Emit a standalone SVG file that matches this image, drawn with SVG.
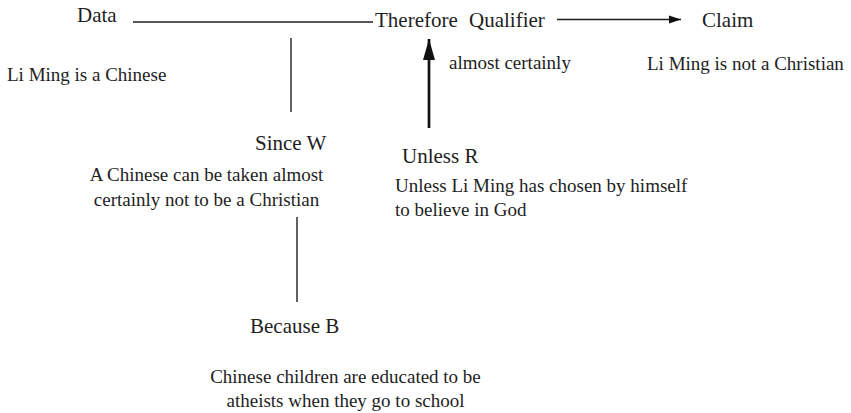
<svg xmlns="http://www.w3.org/2000/svg" width="851" height="413" viewBox="0 0 851 413">
  <style>
    text { font-family: "Liberation Serif", "Times New Roman", serif; fill: #1e1e1e; }
    .head { font-size: 21px; }
    .body { font-size: 19px; }
    .line { stroke: #1e1e1e; stroke-width: 1.4; fill: none; }
    .thick { stroke: #111; stroke-width: 2.7; fill: none; }
  </style>
  <defs>
    <!-- small filled head for the horizontal claim arrow -->
    <marker id="arrow" viewBox="0 0 12 10" refX="12" refY="5" markerWidth="12" markerHeight="10" markerUnits="userSpaceOnUse" orient="auto">
      <path d="M0,1 L12,5 L0,9 Z" fill="#111"/>
    </marker>
    <!-- larger head for the rebuttal arrow -->
    <marker id="arrowUp" viewBox="0 0 21 12" refX="21" refY="6" markerWidth="21" markerHeight="12" markerUnits="userSpaceOnUse" orient="auto">
      <path d="M0,0 L21,6 L0,12 Z" fill="#111"/>
    </marker>
  </defs>

  <g id="connectors">
    <line class="line" x1="133" y1="22" x2="373" y2="22"/>
    <line class="line" x1="291" y1="38" x2="291" y2="112"/>
    <line class="line" x1="557" y1="19.5" x2="681" y2="19.5" marker-end="url(#arrow)"/>
    <line class="thick" x1="429" y1="128" x2="429" y2="39" marker-end="url(#arrowUp)"/>
    <line class="line" x1="297" y1="217" x2="297" y2="302"/>
  </g>

  <g id="data">
    <text class="head" x="77" y="22">Data</text>
    <text class="body" x="7" y="81">Li Ming is a Chinese</text>
  </g>

  <g id="qualifier">
    <text class="head" x="375" y="27">Therefore</text>
    <text class="head" x="469" y="27">Qualifier</text>
    <text class="body" x="449" y="69">almost certainly</text>
  </g>

  <g id="claim">
    <text class="head" x="702" y="27">Claim</text>
    <text class="body" x="647" y="70">Li Ming is not a Christian</text>
  </g>

  <g id="warrant">
    <text class="head" x="255" y="150">Since W</text>
    <text class="body" x="206.5" y="181" text-anchor="middle">A Chinese can be taken almost</text>
    <text class="body" x="206.5" y="206" text-anchor="middle">certainly not to be a Christian</text>
  </g>

  <g id="rebuttal">
    <text class="head" x="402" y="163">Unless R</text>
    <text class="body" x="395" y="192">Unless Li Ming has chosen by himself</text>
    <text class="body" x="395" y="216">to believe in God</text>
  </g>

  <g id="backing">
    <text class="head" x="250" y="333">Because B</text>
    <text class="body" x="345.5" y="383" text-anchor="middle">Chinese children are educated to be</text>
    <text class="body" x="345.5" y="407" text-anchor="middle">atheists when they go to school</text>
  </g>
</svg>
